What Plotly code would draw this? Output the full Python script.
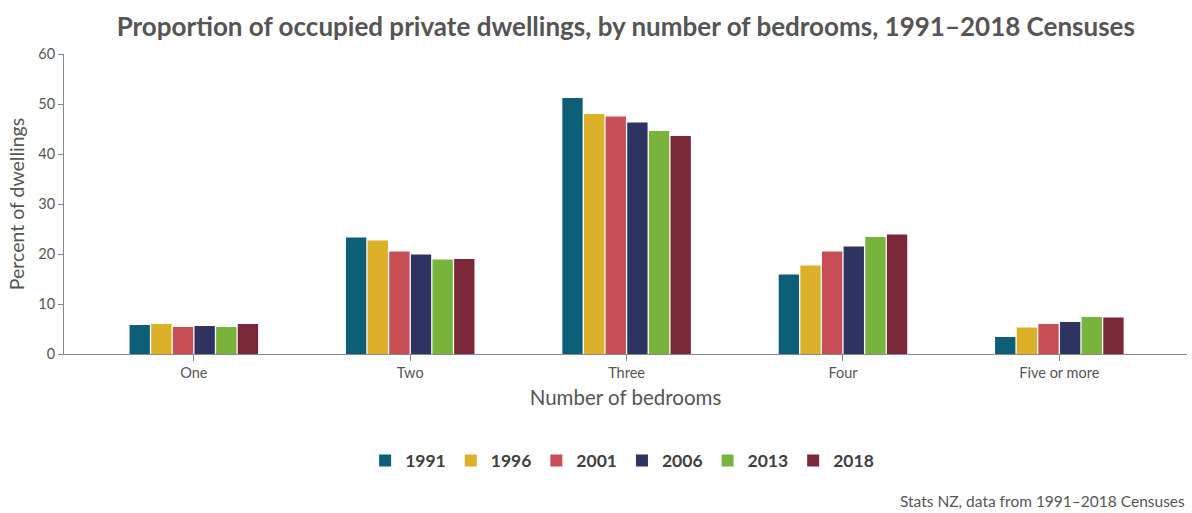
import plotly.graph_objects as go

categories = ["One", "Two", "Three", "Four", "Five or more"]
years = ["1991", "1996", "2001", "2006", "2013", "2018"]
values_1991 = [5.8, 23.3, 51.2, 15.9, 3.4]
values_1996 = [6.0, 22.7, 48.0, 17.7, 5.3]
values_2001 = [5.4, 20.5, 47.5, 20.5, 6.0]
values_2006 = [5.6, 19.9, 46.3, 21.5, 6.4]
values_2013 = [5.4, 18.9, 44.6, 23.4, 7.4]
values_2018 = [6.0, 19.0, 43.6, 23.9, 7.3]
series = [values_1991, values_1996, values_2001, values_2006, values_2013, values_2018]
colors = ["#0d5f78", "#dcb028", "#c84e55", "#2e3362", "#78b33c", "#7a2738"]

fig = go.Figure()
for year, vals, col in zip(years, series, colors):
    fig.add_trace(go.Bar(x=categories, y=vals, name=year, marker_color=col,
                         marker_line_width=0))

font_family = "Lato, 'Open Sans', sans-serif"
fig.update_layout(
    width=1192, height=513,
    paper_bgcolor="white", plot_bgcolor="white",
    margin=dict(l=64, r=5, t=54, b=159),
    barmode="group", bargap=0.4, bargroupgap=0.06,
    font=dict(family=font_family, color="#555555"),
    title=dict(text="<b>Proportion of occupied private dwellings, by number of bedrooms, 1991–2018 Censuses</b>",
               x=0.525, xanchor="center", y=0.947, yanchor="middle",
               font=dict(size=26, color="#555555", family=font_family)),
    legend=dict(orientation="h", x=0.497, xanchor="center", y=-0.295, yanchor="top",
                font=dict(size=17.5, color="#404040", family=font_family, weight="bold"),
                traceorder="normal", itemwidth=30),
    xaxis=dict(title=dict(text="Number of bedrooms", font=dict(size=20.5, color="#555555"), standoff=10),
               range=[-0.6, 4.59], showline=True, linecolor="#888888", linewidth=1,
               ticks="outside", ticklen=6, tickcolor="#888888",
               tickfont=dict(size=14.5, color="#555555"), showgrid=False),
    yaxis=dict(title=dict(text="Percent of dwellings", font=dict(size=19.5, color="#555555"), standoff=8),
               range=[0, 60], dtick=10, showline=True, linecolor="#888888", linewidth=1,
               ticks="outside", ticklen=5, tickcolor="#888888",
               tickfont=dict(size=14.5, color="#555555"), showgrid=False, zeroline=False),
    annotations=[dict(text="Stats NZ, data from 1991–2018 Censuses", xref="paper", yref="paper",
                      x=1.0, y=-0.49, xanchor="right", yanchor="middle", showarrow=False,
                      font=dict(size=15.5, color="#555555", family=font_family))],
)

fig.write_html("out.html")
